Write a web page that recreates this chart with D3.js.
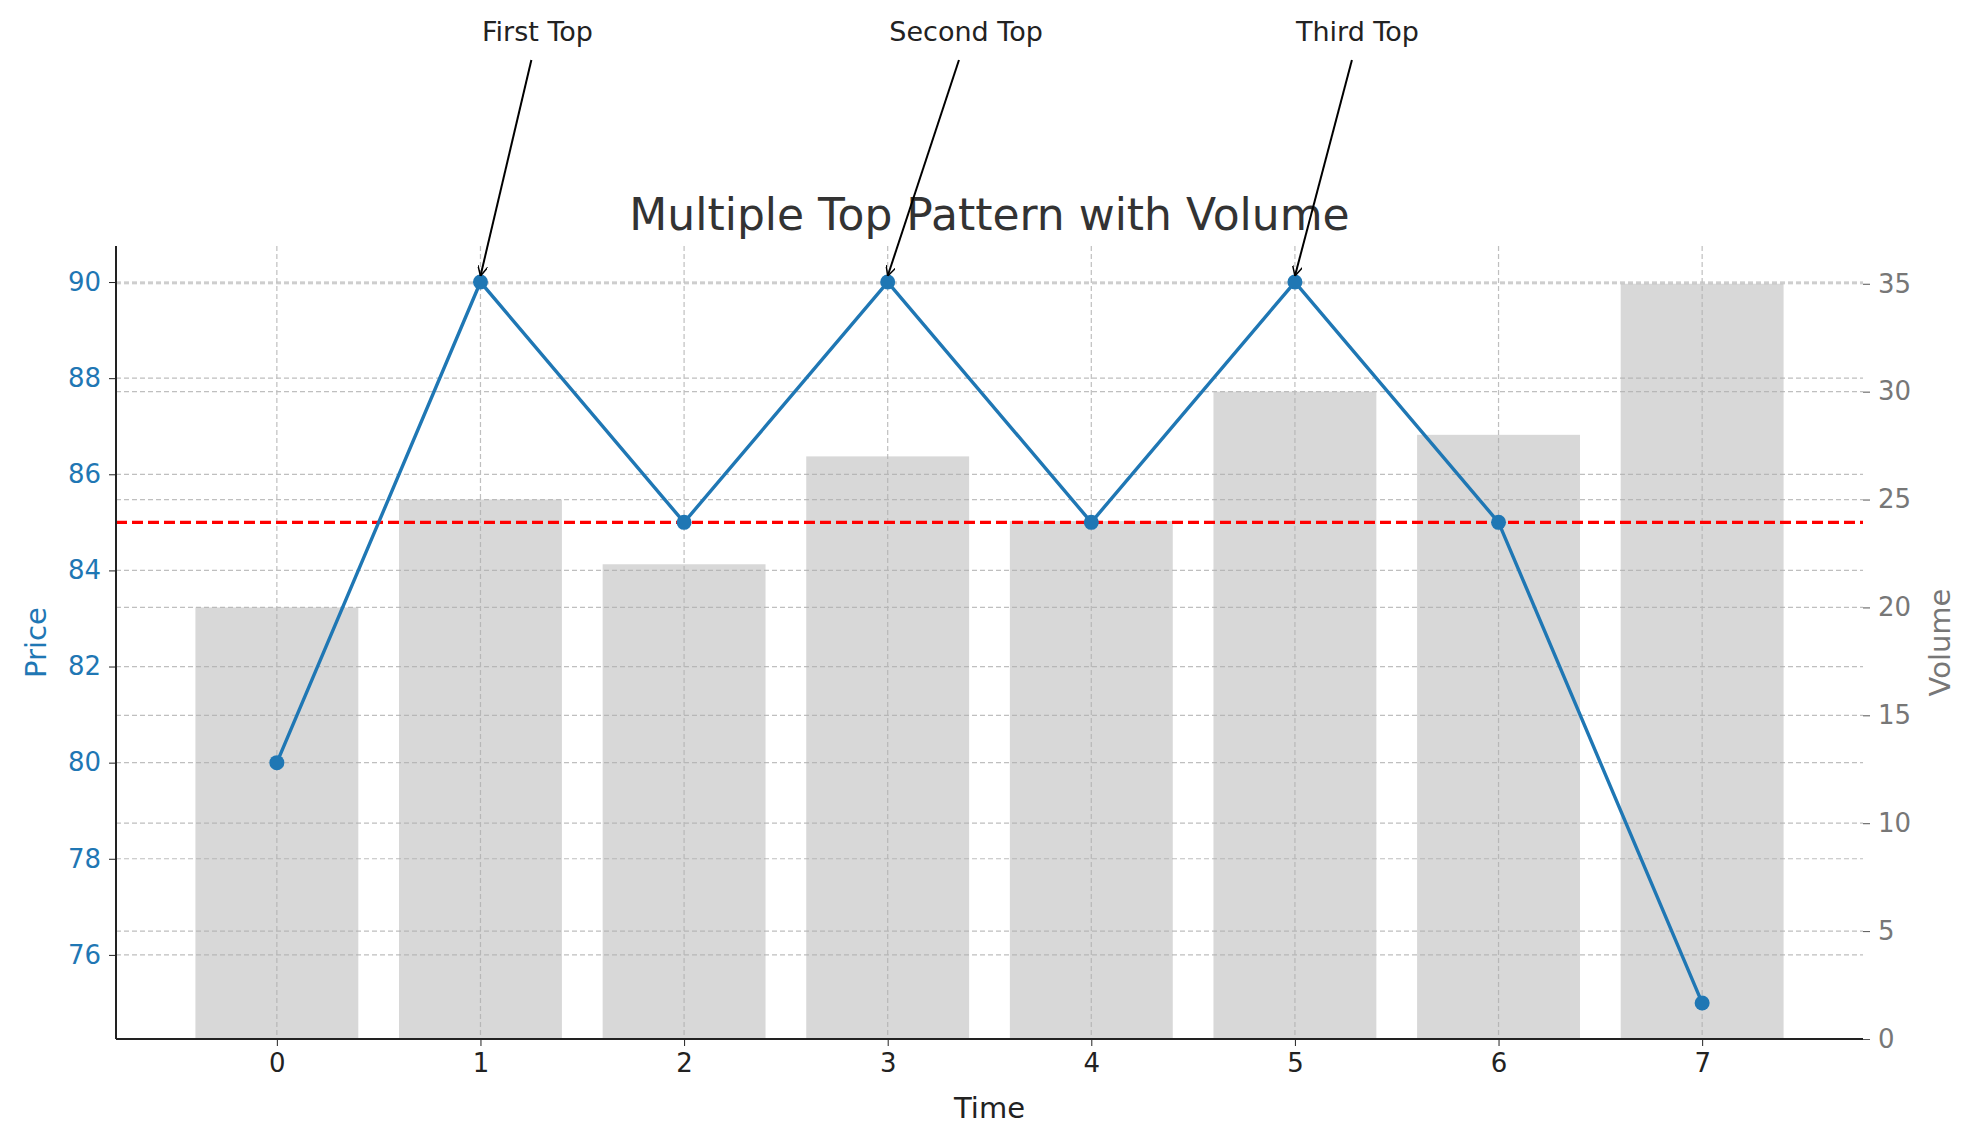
<!DOCTYPE html>
<html><head><meta charset="UTF-8">
<script src="https://cdn.jsdelivr.net/npm/d3@7"></script>
<style>
 body{margin:0;background:#fff;}
 text{font-family:"DejaVu Sans",sans-serif;}
</style></head><body>
<svg id="chart" width="1980" height="1146"></svg>
<script>
var time=[0,1,2,3,4,5,6,7];
var price=[80,90,85,90,85,90,85,75];
var volume=[20,25,22,27,24,30,28,35];
var priceTicks=[76,78,80,82,84,86,88,90];
var volTicks=[0,5,10,15,20,25,30,35];
var support=85;
var tops=[{i:1,label:"First Top",tx:1.28,ax:1.25},{i:3,label:"Second Top",tx:3.385,ax:3.35},{i:5,label:"Third Top",tx:5.307,ax:5.28}];

var L=116,R=1863,T=246,B=1039;
var svg=d3.select('#chart');
var x=d3.scaleLinear().domain([-0.79,7.79]).range([L,R]);
var y=d3.scaleLinear().domain([74.25,90.75]).range([B,T]);
var yv=d3.scaleLinear().domain([0,36.75]).range([B,T]);

// bars
svg.selectAll('rect.bar').data(volume).enter().append('rect')
 .attr('x',function(d,i){return x(time[i]-0.4);}).attr('width',x(0.8)-x(0))
 .attr('y',function(d){return yv(d);}).attr('height',function(d){return B-yv(d);})
 .attr('fill','#d8d8d8');

// grids
var g=svg.append('g').attr('stroke','#b0b0b0').attr('stroke-width',1.2).attr('stroke-dasharray','5,3').attr('opacity',0.8);
time.forEach(function(t){g.append('line').attr('x1',x(t)).attr('x2',x(t)).attr('y1',T).attr('y2',B);});
priceTicks.forEach(function(p){g.append('line').attr('x1',L).attr('x2',R).attr('y1',y(p)).attr('y2',y(p));});
volTicks.forEach(function(v){g.append('line').attr('x1',L).attr('x2',R).attr('y1',yv(v)).attr('y2',yv(v));});

// support line
svg.append('line').attr('x1',L).attr('x2',R).attr('y1',y(support)).attr('y2',y(support))
 .attr('stroke','#ff0000').attr('stroke-width',3.4).attr('stroke-dasharray','11,5');

// price line
var line=d3.line().x(function(d,i){return x(time[i]);}).y(function(d){return y(d);});
svg.append('path').datum(price).attr('d',line).attr('fill','none').attr('stroke','#1f77b4').attr('stroke-width',3.4);
svg.selectAll('circle.pt').data(price).enter().append('circle')
 .attr('cx',function(d,i){return x(time[i]);}).attr('cy',function(d){return y(d);}).attr('r',7.5).attr('fill','#1f77b4');

// axes
var ax=svg.append('g').attr('transform','translate(0,'+B+')').call(d3.axisBottom(x).tickValues(time).tickSize(7).tickPadding(8));
var ayl=svg.append('g').attr('transform','translate('+L+',0)').call(d3.axisLeft(y).tickValues(priceTicks).tickSize(7).tickPadding(8));
var ayr=svg.append('g').attr('transform','translate('+R+',0)').call(d3.axisRight(yv).tickValues(volTicks).tickSize(7).tickPadding(8));
[ax,ayl,ayr].forEach(function(a){a.selectAll('text').attr('font-size',26).attr('font-family','DejaVu Sans');a.select('.domain').remove();});
ax.selectAll('text').attr('fill','#222');ax.selectAll('line').attr('stroke','#222');
ayl.selectAll('text').attr('fill','#1f77b4');ayl.selectAll('line').attr('stroke','#222');
ayr.selectAll('text').attr('fill','#777');ayr.selectAll('line').attr('stroke','#555');
svg.append('line').attr('x1',L).attr('x2',R).attr('y1',B).attr('y2',B).attr('stroke','#222').attr('stroke-width',2);
svg.append('line').attr('x1',L).attr('x2',L).attr('y1',T).attr('y2',B).attr('stroke','#222').attr('stroke-width',2);

// labels
svg.append('text').attr('x',(L+R)/2).attr('y',1118).attr('text-anchor','middle').attr('font-size',29).attr('fill','#222').text('Time');
svg.append('text').attr('transform','translate(46,'+((T+B)/2)+') rotate(-90)').attr('text-anchor','middle').attr('font-size',29).attr('fill','#1f77b4').text('Price');
svg.append('text').attr('transform','translate(1950,'+((T+B)/2)+') rotate(-90)').attr('text-anchor','middle').attr('font-size',29).attr('fill','#777').text('Volume');
svg.append('text').attr('x',(L+R)/2).attr('y',230).attr('text-anchor','middle').attr('font-size',44).attr('fill','#333').text('Multiple Top Pattern with Volume');

// annotations
svg.append('defs').append('marker').attr('id','ah').attr('viewBox','0 0 10 10').attr('refX',10).attr('refY',5)
 .attr('markerWidth',10).attr('markerHeight',10).attr('markerUnits','userSpaceOnUse').attr('orient','auto')
 .append('path').attr('d','M0,0 L10,5 L0,10').attr('fill','none').attr('stroke','#000').attr('stroke-width',1.5);
tops.forEach(function(t){
 svg.append('line').attr('x1',x(t.ax)).attr('y1',60).attr('x2',x(time[t.i])).attr('y2',y(price[t.i])-6)
  .attr('stroke','#000').attr('stroke-width',2).attr('marker-end','url(#ah)');
 svg.append('text').attr('x',x(t.tx)).attr('y',41).attr('text-anchor','middle').attr('font-size',27).attr('fill','#222').text(t.label);
});
</script>
</body></html>
